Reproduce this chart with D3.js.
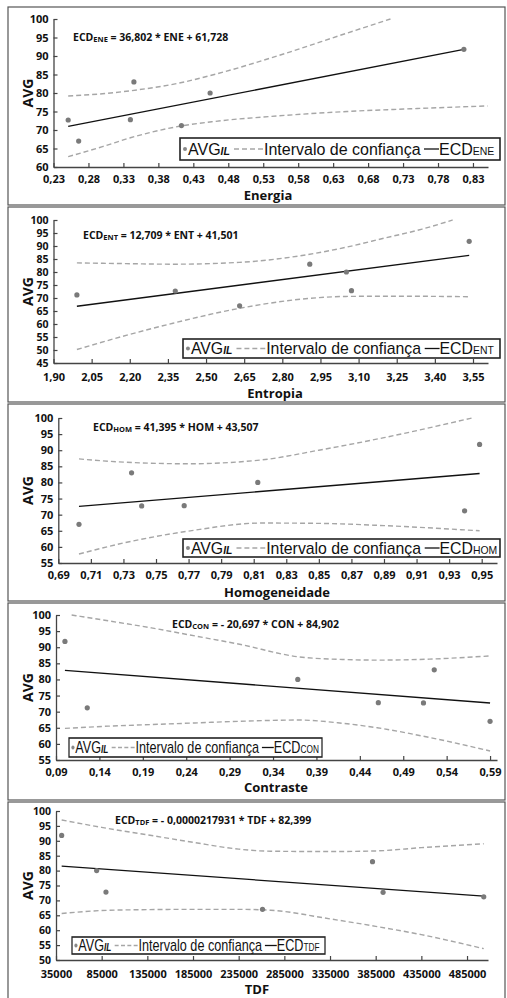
<!DOCTYPE html>
<html>
<head>
<meta charset="utf-8">
<script src="https://cdn.jsdelivr.net/npm/d3@7"></script>
<style>
  body { margin: 0; background: #fff; }
  svg { display: block; }
</style>
</head>
<body>
<svg id="chart" width="507" height="998"></svg>
<script>
// ---- data ----
// Energia
var eneX = [0.251, 0.266, 0.340, 0.345, 0.413, 0.454, 0.817];
var eneY = [72.7, 67.0, 72.8, 83.0, 71.2, 80.0, 91.8];
var eneFitX = [0.251, 0.817], eneFitY = [70.97, 91.80];
var eneUpX = [0.251, 0.30, 0.34, 0.41, 0.46, 0.55, 0.65, 0.712];
var eneUpY = [79.2, 79.8, 80.6, 82.7, 85.0, 90.0, 96.2, 100];
var eneLoX = [0.251, 0.30, 0.34, 0.41, 0.46, 0.55, 0.65, 0.75, 0.851];
var eneLoY = [62.8, 65.5, 67.9, 71.0, 72.3, 73.8, 75.0, 75.8, 76.5];
var eneTicks = [0.23, 0.28, 0.33, 0.38, 0.43, 0.48, 0.53, 0.58, 0.63, 0.68, 0.73, 0.78, 0.83];

// Entropia
var entX = [1.992, 2.379, 2.632, 2.908, 3.052, 3.072, 3.535];
var entY = [71.2, 72.7, 67.0, 83.0, 80.0, 72.8, 91.8];
var entFitX = [1.992, 3.535], entFitY = [66.82, 86.43];
var entUpX = [1.992, 2.2, 2.37, 2.63, 2.9, 3.05, 3.2, 3.35, 3.47];
var entUpY = [83.5, 83.2, 83.0, 83.7, 86.7, 89.5, 93.0, 96.5, 100];
var entLoX = [1.992, 2.2, 2.37, 2.63, 2.9, 3.05, 3.25, 3.535];
var entLoY = [50.2, 56.0, 60.3, 66.0, 69.8, 70.6, 70.7, 70.5];
var entTicks = [1.90, 2.05, 2.20, 2.35, 2.50, 2.65, 2.80, 2.95, 3.10, 3.25, 3.40, 3.55];

// Homogeneidade
var homX = [0.7027, 0.735, 0.7412, 0.7673, 0.8125, 0.9395, 0.9487];
var homY = [67.0, 83.0, 72.7, 72.8, 80.0, 71.2, 91.8];
var homFitX = [0.7027, 0.9487], homFitY = [72.59, 82.78];
var homUpX = [0.7027, 0.73, 0.77, 0.815, 0.85, 0.89, 0.944];
var homUpY = [87.3, 86.3, 85.8, 87.0, 90.0, 93.9, 100];
var homLoX = [0.7027, 0.73, 0.77, 0.815, 0.85, 0.89, 0.9487];
var homLoY = [57.8, 61.2, 64.9, 67.4, 67.3, 66.6, 65.0];
var homTicks = [0.69, 0.71, 0.73, 0.75, 0.77, 0.79, 0.81, 0.83, 0.85, 0.87, 0.89, 0.91, 0.93, 0.95];

// Contraste
var conX = [0.1003, 0.126, 0.3685, 0.4613, 0.5133, 0.5257, 0.59];
var conY = [91.8, 71.2, 80.0, 72.8, 72.7, 83.0, 67.0];
var conFitX = [0.1003, 0.59], conFitY = [82.83, 72.69];
var conUpX = [0.108, 0.15, 0.20, 0.25, 0.30, 0.37, 0.42, 0.46, 0.52, 0.59];
var conUpY = [100, 98.2, 96.0, 93.5, 91.0, 87.0, 86.2, 86.0, 86.3, 87.3];
var conLoX = [0.1003, 0.15, 0.20, 0.25, 0.30, 0.37, 0.42, 0.46, 0.52, 0.59];
var conLoY = [64.8, 65.5, 66.0, 66.5, 67.0, 67.4, 66.4, 65.0, 62.0, 57.8];
var conTicks = [0.09, 0.14, 0.19, 0.24, 0.29, 0.34, 0.39, 0.44, 0.49, 0.54, 0.59];

// TDF
var tdfX = [41200, 79500, 89700, 261100, 381500, 393100, 503300];
var tdfY = [91.8, 80.0, 72.8, 67.0, 83.0, 72.7, 71.2];
var tdfFitX = [41200, 503300], tdfFitY = [81.50, 71.43];
var tdfBandX = [41200, 85000, 135000, 185000, 235000, 270000, 335000, 385000, 435000, 503300];
var tdfUpY = [97.0, 94.5, 92.0, 89.5, 87.2, 86.5, 86.4, 86.6, 87.7, 89.0];
var tdfLoY = [65.6, 66.6, 66.9, 67.0, 67.0, 66.7, 63.8, 61.3, 58.5, 53.8];
var tdfTicks = [35000, 85000, 135000, 185000, 235000, 285000, 335000, 385000, 435000, 485000];

var avgTicks60 = [60, 65, 70, 75, 80, 85, 90, 95, 100];
var avgTicks45 = [45, 50, 55, 60, 65, 70, 75, 80, 85, 90, 95, 100];
var avgTicks55 = [55, 60, 65, 70, 75, 80, 85, 90, 95, 100];
var avgTicks50 = [50, 55, 60, 65, 70, 75, 80, 85, 90, 95, 100];

var comma2 = d => d3.format(".2f")(d).replace(".", ",");
var plain = d3.format("d");

var panels = [
  {top: 7, bottom: 205, xDom: [0.23, 0.8515], xRng: [53.5, 488], yDom: [60, 100], yRng: [167, 19],
   xTicks: eneTicks, yTicks: avgTicks60, fmt: comma2, xPad: 8, yFont: 11,
   px: eneX, py: eneY, fx: eneFitX, fy: eneFitY, ux: eneUpX, uy: eneUpY, lx: eneLoX, ly: eneLoY,
   title: "Energia", tx: 268, ty: 200, sub: "ENE", eq: " = 36,802 * ENE  + 61,728", eqX: 73, eqY: 41,
   leg: [180, 138, 320, 22]},
  {top: 207, bottom: 402, xDom: [1.90, 3.609], xRng: [53.5, 488], yDom: [45, 100], yRng: [363, 220],
   xTicks: entTicks, yTicks: avgTicks45, fmt: comma2, xPad: 10, yFont: 10.5,
   px: entX, py: entY, fx: entFitX, fy: entFitY, ux: entUpX, uy: entUpY, lx: entLoX, ly: entLoY,
   title: "Entropia", tx: 275, ty: 398, sub: "ENT", eq: " = 12,709 * ENT  + 41,501", eqX: 83, eqY: 239,
   leg: [183, 339, 317, 19]},
  {top: 404, bottom: 601, xDom: [0.69, 0.9594], xRng: [58.3, 497], yDom: [55, 100], yRng: [563, 418],
   xTicks: homTicks, yTicks: avgTicks55, fmt: comma2, xPad: 8, yFont: 11,
   px: homX, py: homY, fx: homFitX, fy: homFitY, ux: homUpX, uy: homUpY, lx: homLoX, ly: homLoY,
   title: "Homogeneidade", tx: 277, ty: 597, sub: "HOM", eq: " = 41,395 * HOM  + 43,507", eqX: 93, eqY: 431,
   leg: [183, 539, 317, 18]},
  {top: 603, bottom: 800, xDom: [0.09, 0.598], xRng: [56, 497], yDom: [55, 100], yRng: [760, 615],
   xTicks: conTicks, yTicks: avgTicks55, fmt: comma2, xPad: 8, yFont: 11,
   px: conX, py: conY, fx: conFitX, fy: conFitY, ux: conUpX, uy: conUpY, lx: conLoX, ly: conLoY,
   title: "Contraste", tx: 276, ty: 792, sub: "CON", eq: " = - 20,697 * CON  + 84,902", eqX: 172, eqY: 628,
   leg: [69, 738, 253, 19]},
  {top: 802, bottom: 1005, xDom: [35000, 507960], xRng: [56, 488], yDom: [50, 100], yRng: [960, 811],
   xTicks: tdfTicks, yTicks: avgTicks50, fmt: plain, xPad: 10, yFont: 10.5,
   px: tdfX, py: tdfY, fx: tdfFitX, fy: tdfFitY, ux: tdfBandX, uy: tdfUpY, lx: tdfBandX, ly: tdfLoY,
   title: "TDF", tx: 257, ty: 994, sub: "TDF", eq: " = - 0,0000217931 * TDF + 82,399", eqX: 115, eqY: 824,
   leg: [72, 937, 253, 17]}
];

var svg = d3.select("#chart");
var boldFont = "'Open Sans', 'DejaVu Sans', sans-serif";
var legFont = "'Liberation Sans', Arial, sans-serif";

panels.forEach(drawPanel);

function drawPanel(p) {
  var g = svg.append("g");

  // panel frame
  g.append("rect")
    .attr("x", 8).attr("y", p.top)
    .attr("width", 497).attr("height", p.bottom - p.top)
    .attr("fill", "none").attr("stroke", "#555").attr("stroke-width", 1.2);

  var x = d3.scaleLinear().domain(p.xDom).range(p.xRng);
  var y = d3.scaleLinear().domain(p.yDom).range(p.yRng);

  var xAxis = d3.axisBottom(x).tickValues(p.xTicks).tickFormat(p.fmt)
    .tickSizeInner(-4).tickSizeOuter(0).tickPadding(p.xPad);
  var yAxis = d3.axisLeft(y).tickValues(p.yTicks)
    .tickSizeInner(-4).tickSizeOuter(0).tickPadding(5);

  var gx = g.append("g").attr("transform", "translate(0," + p.yRng[0] + ")").call(xAxis);
  var gy = g.append("g").attr("transform", "translate(" + p.xRng[0] + ",0)").call(yAxis);
  [gx, gy].forEach(function(a) {
    a.select(".domain").attr("stroke", "#444").attr("stroke-width", 1.3);
    a.selectAll(".tick line").attr("stroke", "#444").attr("stroke-width", 1.2);
    a.selectAll("text").attr("fill", "#111")
      .style("font-family", boldFont).style("font-weight", 700).style("font-size", "11px");
  });
  gy.selectAll("text").style("font-size", p.yFont + "px");

  // confidence band (dashed)
  var line = d3.line().x(d => x(d[0])).y(d => y(d[1])).curve(d3.curveMonotoneX);
  [[p.ux, p.uy], [p.lx, p.ly]].forEach(function(b) {
    g.append("path")
      .attr("d", line(b[0].map((v, i) => [v, b[1][i]])))
      .attr("fill", "none").attr("stroke", "#a6a6a6")
      .attr("stroke-width", 1.4).attr("stroke-dasharray", "5,3");
  });

  // fitted line
  g.append("path")
    .attr("d", d3.line().x(d => x(d[0])).y(d => y(d[1]))(p.fx.map((v, i) => [v, p.fy[i]])))
    .attr("fill", "none").attr("stroke", "#111").attr("stroke-width", 1.3);

  // points
  g.append("g").selectAll("circle")
    .data(p.px.map((v, i) => [v, p.py[i]]))
    .enter().append("circle")
    .attr("cx", d => x(d[0])).attr("cy", d => y(d[1]))
    .attr("r", 2.6).attr("fill", "#7a7a7a");

  // axis titles
  g.append("text")
    .attr("transform", "translate(28," + (p.yRng[0] + p.yRng[1]) / 2 + ") rotate(-90)")
    .attr("text-anchor", "middle").attr("dy", "0.36em")
    .style("font-family", boldFont).style("font-weight", 700).style("font-size", "14px")
    .attr("fill", "#111").text("AVG");
  g.append("text")
    .attr("x", p.tx).attr("y", p.ty).attr("text-anchor", "middle")
    .style("font-family", boldFont).style("font-weight", 700).style("font-size", "13px")
    .attr("fill", "#111").text(p.title);

  // equation
  var eq = g.append("text").attr("x", p.eqX).attr("y", p.eqY)
    .style("font-family", boldFont).style("font-weight", 700).style("font-size", "10.5px")
    .attr("fill", "#111");
  eq.append("tspan").text("ECD");
  eq.append("tspan").attr("font-size", "7.5px").attr("dy", 1).text(p.sub);
  eq.append("tspan").attr("dy", -1).text(p.eq);

  drawLegend(g, p);
}

function drawLegend(g, p) {
  var h = p.leg[3], mid = h / 2;
  var L = g.append("g")
    .attr("transform", "translate(" + p.leg[0] + "," + p.leg[1] + ") scale(" + (p.leg[2] / 320) + ",1)");
  L.append("rect").attr("width", 320).attr("height", h)
    .attr("fill", "#fff").attr("stroke", "#222").attr("stroke-width", 1.6);
  L.append("circle").attr("cx", 5).attr("cy", mid).attr("r", 2).attr("fill", "#888");

  var base = mid + 5.8;
  var t1 = L.append("text").attr("x", 8).attr("y", base)
    .style("font-family", legFont).style("font-size", "16px").attr("fill", "#111");
  t1.append("tspan").text("AVG");
  t1.append("tspan").style("font-size", "10.5px").style("font-style", "italic").style("font-weight", 700).text("IL");

  L.append("line").attr("x1", 54).attr("x2", 83).attr("y1", mid).attr("y2", mid)
    .attr("stroke", "#a6a6a6").attr("stroke-width", 1.4).attr("stroke-dasharray", "5,3");
  L.append("text").attr("x", 84).attr("y", base)
    .style("font-family", legFont).style("font-size", "16px").attr("fill", "#111")
    .text("Intervalo de confiança");

  L.append("line").attr("x1", 244).attr("x2", 259).attr("y1", mid).attr("y2", mid)
    .attr("stroke", "#111").attr("stroke-width", 1.3);
  var t3 = L.append("text").attr("x", 259).attr("y", base)
    .style("font-family", legFont).style("font-size", "16px").attr("fill", "#111");
  t3.append("tspan").text("ECD");
  t3.append("tspan").style("font-size", "10.5px").text(p.sub);
}
</script>
</body>
</html>
